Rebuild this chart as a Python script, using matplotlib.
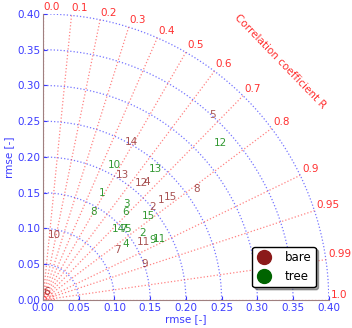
import numpy as np
import matplotlib
matplotlib.use("Agg")
import matplotlib.pyplot as plt
from matplotlib.lines import Line2D

# rmse position of every station
bare_lbl = ["14", "13", "12", "4", "2", "1", "15", "8", "5", "11", "9", "7", "10", "6"]
bare_x = [0.124, 0.111, 0.138, 0.145, 0.153, 0.165, 0.179, 0.215, 0.237, 0.140, 0.1417, 0.1044, 0.0154, 0.0046]
bare_y = [0.2206, 0.175, 0.163, 0.165, 0.1305, 0.140, 0.1445, 0.155, 0.259, 0.0807, 0.050, 0.070, 0.0909, 0.0117]

tree_lbl = ["10", "13", "1", "12", "8", "3", "6", "15", "14", "5", "7", "4", "2", "11", "9"]
tree_x = [0.0993, 0.158, 0.083, 0.2485, 0.0704, 0.117, 0.1156, 0.147, 0.105, 0.119, 0.112, 0.1156, 0.140, 0.1636, 0.154]
tree_y = [0.1888, 0.183, 0.150, 0.219, 0.1235, 0.134, 0.1226, 0.1175, 0.0988, 0.0988, 0.099, 0.0779, 0.0933, 0.0853, 0.0839]

corr_ticks = [0.0, 0.1, 0.2, 0.3, 0.4, 0.5, 0.6, 0.7, 0.8, 0.9, 0.95, 0.99, 1.0]
std_rings = [0.05, 0.10, 0.15, 0.20, 0.25, 0.30, 0.35, 0.40]
small_rings = [0.004, 0.008, 0.012, 0.016]
rmax = 0.40

bare_col = "#8b1a1a"
tree_col = "#006400"
blue = "#3b3bff"
red = "#ff3030"

fig = plt.figure(figsize=(3.52, 3.28), dpi=100)
ax = fig.add_axes([0.122, 0.0854, 0.812, 0.872])

th = np.linspace(0, np.pi / 2, 200)
# standard deviation rings
for r in std_rings:
    ax.plot(r * np.cos(th), r * np.sin(th), ls=":", color=blue, lw=0.9, alpha=0.7)
# small rings round the reference near origin
for r in small_rings:
    ax.plot(r * np.cos(th), r * np.sin(th), ls=":", color=red, lw=0.9, alpha=0.6)

# correlation lines and their labels
for c in corr_ticks:
    a = np.arccos(c)
    ax.plot([0, rmax * np.cos(a)], [0, rmax * np.sin(a)], ls=":", color=red, lw=0.9, alpha=0.6)
    ax.text(0.403 * np.cos(a), 0.403 * np.sin(a), str(c), color=red, fontsize=7.5,
            ha="left", va="bottom")

ax.text(0.332, 0.333, "Correlation coefficient R", color=red, fontsize=7.5,
        rotation=-46, ha="center", va="center")

for l, x, y in zip(bare_lbl, bare_x, bare_y):
    ax.text(x, y, l, color=bare_col, alpha=0.75, fontsize=7.5, ha="center", va="center")
for l, x, y in zip(tree_lbl, tree_x, tree_y):
    ax.text(x, y, l, color="green", alpha=0.8, fontsize=7.5, ha="center", va="center")

ax.set_xlim(0, rmax)
ax.set_ylim(0, rmax)
ticks = np.arange(0, 0.41, 0.05)
ax.set_xticks(ticks)
ax.set_yticks(ticks)
ax.set_xticklabels(["%.2f" % t for t in ticks])
ax.set_yticklabels(["%.2f" % t for t in ticks])
ax.tick_params(colors=blue, labelsize=7.5, direction="in", length=3, pad=2)
ax.spines["top"].set_visible(False)
ax.spines["right"].set_visible(False)
ax.spines["left"].set_color("#a08080")
ax.spines["bottom"].set_color("#a08080")
ax.set_xlabel("rmse [-]", color=blue, fontsize=7.5, labelpad=1)
ax.set_ylabel("rmse [-]", color=blue, fontsize=7.5, labelpad=2)

handles = [Line2D([], [], marker="o", ls="", color=bare_col, markersize=10),
           Line2D([], [], marker="o", ls="", color=tree_col, markersize=10)]
leg = ax.legend(handles, ["bare", "tree"], loc="lower right", bbox_to_anchor=(0.975, 0.025),
                fontsize=8.5, shadow=True, fancybox=True, handletextpad=1.2, borderpad=0.35,
                labelspacing=0.5, handlelength=1.2)
leg.get_frame().set_edgecolor("black")

fig.savefig("out.png", dpi=100)
